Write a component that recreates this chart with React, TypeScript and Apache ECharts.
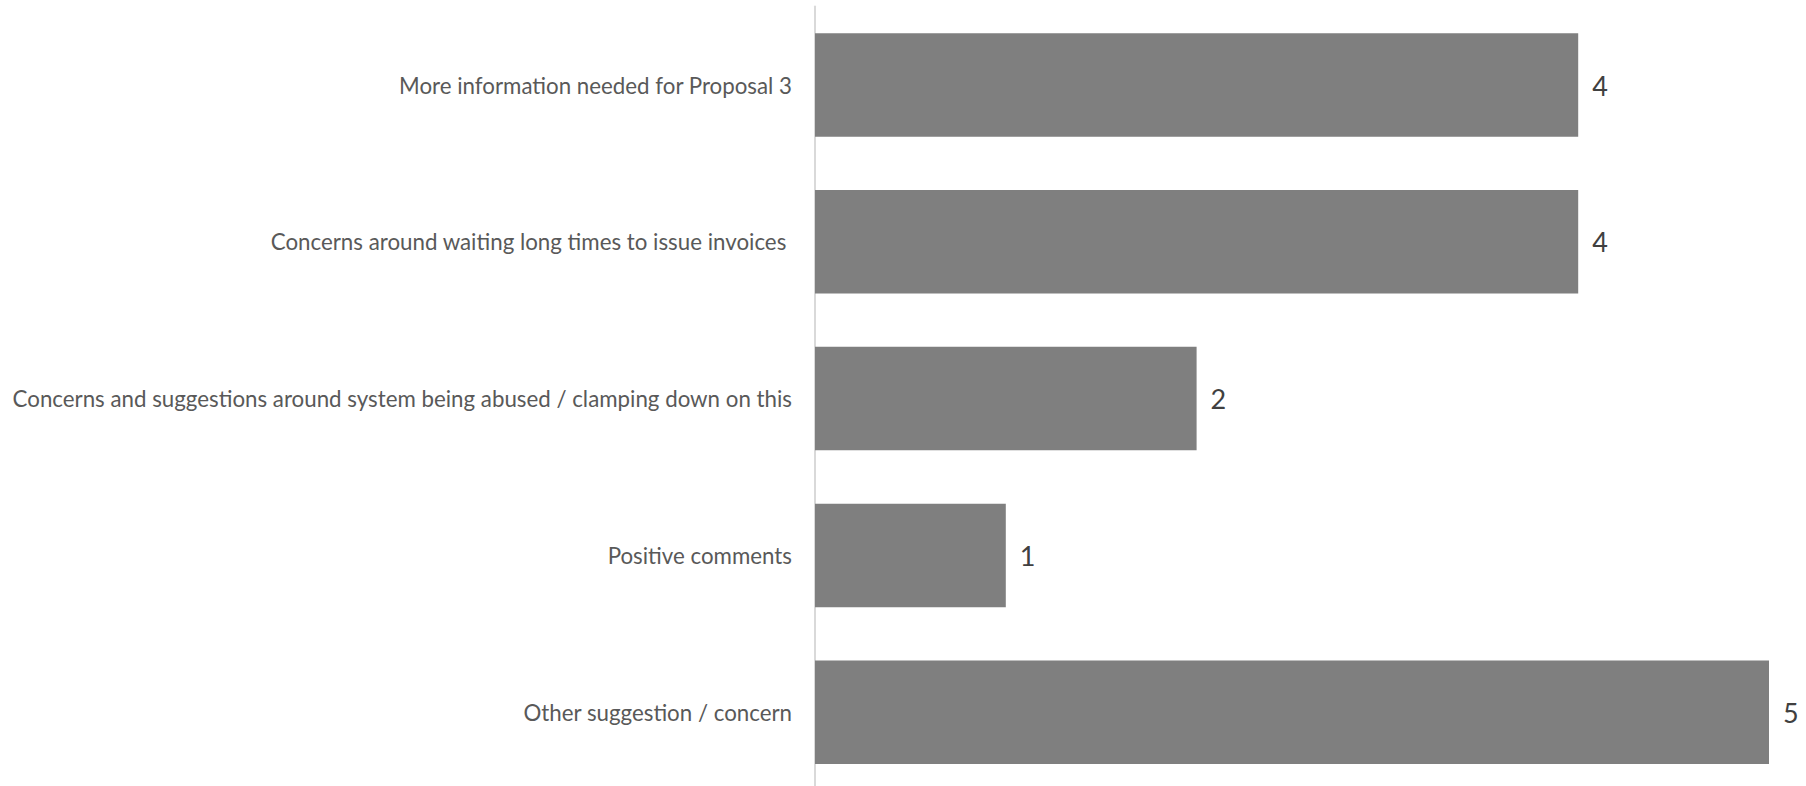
import React, { useEffect, useRef } from "react";
import * as echarts from "echarts";

const categories = [
  "More information needed for Proposal 3",
  "Concerns around waiting long times to issue invoices ",
  "Concerns and suggestions around system being abused / clamping down on this",
  "Positive comments",
  "Other suggestion / concern",
];
const values = [4, 4, 2, 1, 5];

export default function App() {
  const ref = useRef<HTMLDivElement>(null);
  useEffect(() => {
    const chart = echarts.init(ref.current!, undefined, { renderer: "svg" });
    chart.setOption({
      animation: false,
      backgroundColor: "#ffffff",
      grid: { left: 815, right: 37, top: 6.6, bottom: 9.4, containLabel: false },
      xAxis: {
        type: "value",
        min: 0,
        max: 5,
        show: false,
      },
      yAxis: {
        type: "category",
        data: categories,
        inverse: true,
        axisLine: { show: true, lineStyle: { color: "#d9d9d9", width: 2 } },
        axisTick: { show: false },
        axisLabel: {
          color: "#595959",
          fontFamily: "Lato",
          fontSize: 22.3,
          margin: 23,
        },
        splitLine: { show: false },
      },
      series: [
        {
          type: "bar",
          data: values,
          barCategoryGap: "34%",
          itemStyle: { color: "#7f7f7f" },
          label: {
            show: true,
            position: "right",
            distance: 14,
            color: "#404040",
            fontFamily: "Lato",
            fontSize: 27,
          },
        },
      ],
    });
    return () => chart.dispose();
  }, []);
  return (
    <div style={{ position: "fixed", left: 0, top: 0, width: 1806, height: 786, overflow: "hidden" }}>
      <div ref={ref} style={{ width: 1806, height: 800 }} />
    </div>
  );
}
